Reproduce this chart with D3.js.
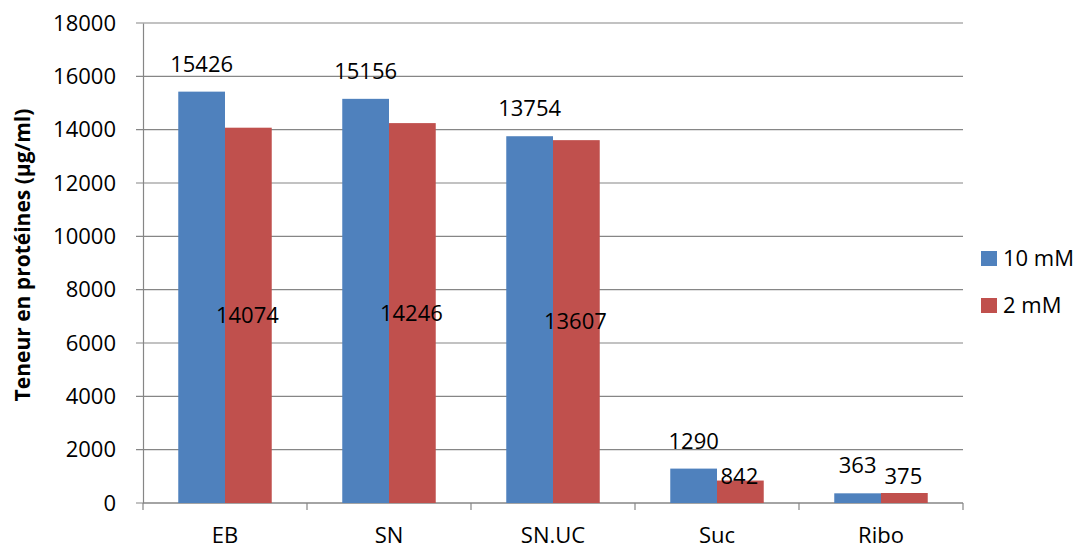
<!DOCTYPE html>
<html>
<head>
<meta charset="utf-8">
<script src="https://cdnjs.cloudflare.com/ajax/libs/d3/7.8.5/d3.min.js"></script>
<style>
  html, body { margin: 0; padding: 0; background: #fff; }
  svg text { font-family: "Open Sans", "Noto Sans", sans-serif; fill: #000; }
</style>
</head>
<body>
<svg id="chart" width="1082" height="548"></svg>
<script>
// Protein content per fraction, for two concentrations
const categories = ["EB", "SN", "SN.UC", "Suc", "Ribo"];
const seriesNames = ["10 mM", "2 mM"];
const values10mM = [15426, 15156, 13754, 1290, 363];
const values2mM = [14074, 14246, 13607, 842, 375];
const yTicks = [0, 2000, 4000, 6000, 8000, 10000, 12000, 14000, 16000, 18000];
const colors = ["#4F81BD", "#C0504D"];

const svg = d3.select("#chart");
const plotLeft = 143, plotRight = 963, plotTop = 23, plotBottom = 503;
const tickLen = 7;
const fontSize = 22;

const x = d3.scaleBand().domain(categories).range([plotLeft, plotRight])
  .paddingInner(0.43).paddingOuter(0.215);
const xSub = d3.scaleBand().domain(seriesNames).range([0, x.bandwidth()]);
const y = d3.scaleLinear().domain([0, 18000]).range([plotBottom, plotTop]);

// horizontal gridlines (extend left as tick marks)
svg.append("g").selectAll("line").data(yTicks).join("line")
  .attr("x1", plotLeft - tickLen).attr("x2", plotRight)
  .attr("y1", d => y(d)).attr("y2", d => y(d))
  .attr("stroke", "#868686").attr("stroke-width", 1.2);

// value axis
const yAxis = svg.append("g").attr("transform", `translate(${plotLeft},0)`)
  .call(d3.axisLeft(y).tickValues(yTicks).tickSize(0).tickPadding(27).tickFormat(d3.format("d")));
yAxis.select(".domain").attr("stroke", "#868686").attr("stroke-width", 1.2);
yAxis.selectAll("text").attr("font-size", fontSize).style("font-family", '"Open Sans", sans-serif').attr("fill", "#000");

// category axis line and boundary ticks
svg.append("line").attr("x1", plotLeft).attr("x2", plotRight).attr("y1", plotBottom).attr("y2", plotBottom)
  .attr("stroke", "#868686").attr("stroke-width", 1.2);
const boundaries = d3.range(categories.length + 1).map(i => plotLeft + i * x.step());
svg.append("g").selectAll("line").data(boundaries).join("line")
  .attr("x1", d => d).attr("x2", d => d).attr("y1", plotBottom).attr("y2", plotBottom + tickLen)
  .attr("stroke", "#868686").attr("stroke-width", 1.2);
svg.append("g").selectAll("text").data(categories).join("text")
  .attr("x", d => x(d) + x.bandwidth() / 2).attr("y", 543)
  .attr("text-anchor", "middle").attr("font-size", fontSize).text(d => d);

// bars
const rows = categories.map((c, i) => ({ cat: c, vals: [values10mM[i], values2mM[i]] }));
const groups = svg.append("g").selectAll("g").data(rows).join("g")
  .attr("transform", d => `translate(${x(d.cat)},0)`);
groups.selectAll("rect").data(d => d.vals.map((v, k) => ({ v, k }))).join("rect")
  .attr("x", d => xSub(seriesNames[d.k]))
  .attr("width", xSub.bandwidth())
  .attr("y", d => y(d.v))
  .attr("height", d => plotBottom - y(d.v))
  .attr("fill", d => colors[d.k]);

// labels: 10 mM above the bar, 2 mM in the bar middle (kept above a floor level)
const capHalf = fontSize * 0.36;
groups.append("text")
  .attr("x", xSub(seriesNames[0]) + xSub.bandwidth() / 2)
  .attr("y", d => y(d.vals[0]) - 20)
  .attr("text-anchor", "middle").attr("font-size", fontSize)
  .text(d => d.vals[0]);
groups.append("text")
  .attr("x", xSub(seriesNames[1]) + xSub.bandwidth() / 2 - 1)
  .attr("y", d => Math.min(y(d.vals[1] / 2), y(1000)) + capHalf)
  .attr("text-anchor", "middle").attr("font-size", fontSize)
  .text(d => d.vals[1]);

// axis title
svg.append("text")
  .attr("transform", `translate(30,255) rotate(-90)`)
  .attr("text-anchor", "middle").attr("font-size", 21).attr("font-weight", "bold")
  .text("Teneur en protéines (µg/ml)");

// legend
const legend = svg.append("g").selectAll("g").data(seriesNames).join("g")
  .attr("transform", (d, i) => `translate(981,${251 + i * 47})`);
legend.append("rect").attr("width", 16).attr("height", 15).attr("fill", (d, i) => colors[i]);
legend.append("text").attr("x", 22).attr("y", 15).attr("font-size", fontSize).text(d => d);
</script>
</body>
</html>
